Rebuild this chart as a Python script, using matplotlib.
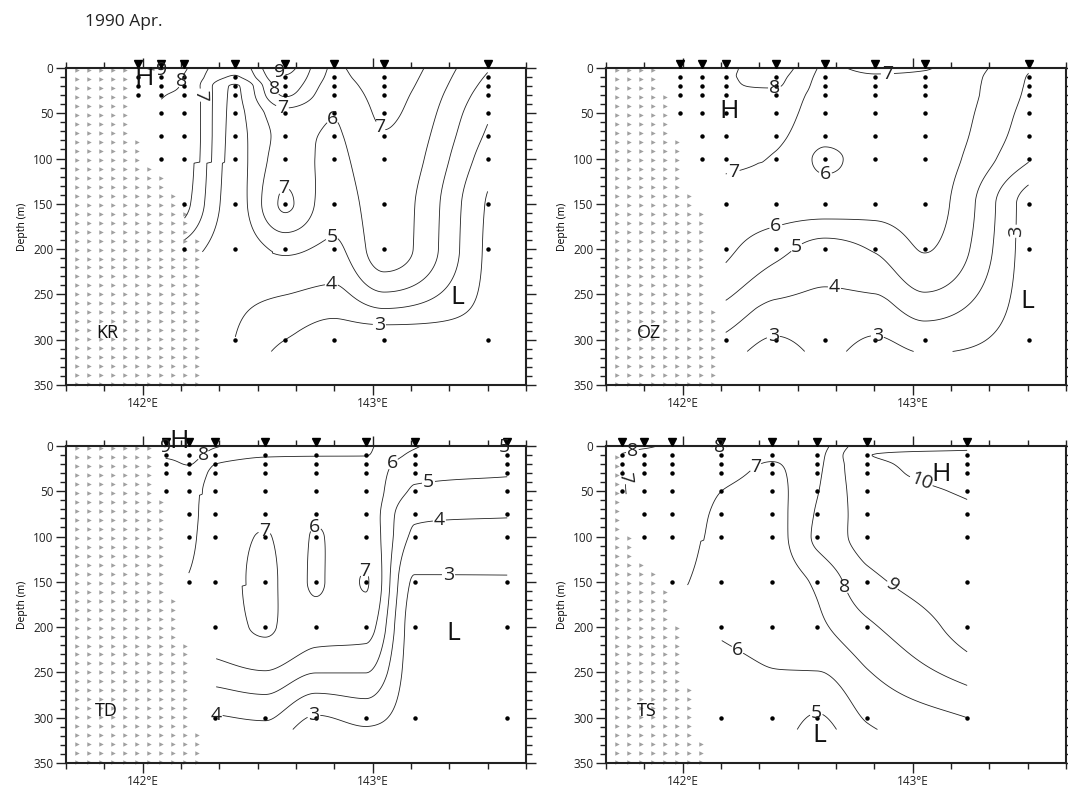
import numpy as np
import matplotlib
matplotlib.use('Agg')
import matplotlib.pyplot as plt
from matplotlib.ticker import MultipleLocator, FixedLocator

plt.rcParams['font.family'] = ['Open Sans', 'DejaVu Sans']

# standard observation depths (m)
DEPTHS = [0, 10, 20, 30, 50, 75, 100, 150, 200, 300]
LEVELS = [3, 4, 5, 6, 7, 8, 9, 10]

# ---- KR section -----------------------------------------------------------
KR_LON = [141.98, 142.08, 142.18, 142.40, 142.62, 142.83, 143.05, 143.50]
KR_TEMP = [
    [8.9, 8.8, 8.7, 8.5],
    [9.15, 8.6, 8.3, 8.05, 7.9, 7.75, 7.6],
    [8.15, 7.95, 7.9, 7.85, 7.8, 7.75, 7.7, 7.4, 5.6],
    [6.3, 5.9, 4.9, 4.85, 4.8, 4.75, 4.7, 4.6, 4.4, 4.0],
    [9.3, 8.9, 8.5, 8.1, 6.7, 6.3, 6.5, 7.15, 5.2, 3.0],
    [6.9, 6.8, 6.6, 6.4, 6.05, 5.9, 5.75, 5.4, 4.8, 2.4],
    [7.6, 7.5, 7.4, 7.3, 7.15, 6.95, 6.8, 6.55, 6.5, 2.2],
    [5.1, 4.9, 4.7, 4.5, 4.15, 3.85, 3.5, 2.9, 2.8, 2.75],
]
KR_LAND = [0, 0, 0, 0, 0, 75, 110, 120, 140, 150, 185]

# ---- OZ section -----------------------------------------------------------
OZ_LON = [141.99, 142.086, 142.187, 142.404, 142.619, 142.837, 143.052, 143.504]
OZ_TEMP = [
    [7.9, 7.9, 7.85, 7.8, 7.7],
    [7.9, 7.9, 7.9, 7.85, 7.8, 7.6, 7.3],
    [7.9, 7.95, 7.95, 7.9, 7.95, 7.7, 7.3, 6.5, 6.2, 3.8],
    [8.5, 8.2, 8.05, 7.8, 7.6, 7.25, 6.9, 6.5, 5.35, 2.9],
    [6.9, 6.8, 6.7, 6.6, 6.4, 6.2, 5.85, 6.4, 4.6, 3.4],
    [7.15, 6.95, 6.9, 6.8, 6.6, 6.5, 6.4, 6.3, 5.1, 2.9],
    [7.05, 6.9, 6.85, 6.8, 6.7, 6.6, 6.5, 6.4, 6.05, 3.4],
    [5.1, 4.95, 4.9, 4.85, 4.7, 4.5, 4.1, 2.5, 2.5, 2.6],
]
OZ_LAND = [0, 0, 0, 0, 25, 76, 137, 160, 260]

# ---- TD section -----------------------------------------------------------
TD_LON = [142.10, 142.20, 142.316, 142.533, 142.753, 142.97, 143.182, 143.585]
TD_TEMP = [
    [9.1, 8.3, 7.6, 7.4, 7.2],
    [8.7, 8.4, 8.05, 7.6, 7.3, 7.25, 7.2, 6.95],
    [8.1, 7.6, 7.0, 6.8, 6.7, 6.7, 6.65, 6.6, 6.55, 3.9],
    [7.5, 7.1, 6.7, 6.6, 6.6, 6.8, 7.05, 7.2, 7.1, 4.1],
    [7.3, 7.05, 6.6, 6.4, 6.3, 6.1, 5.95, 5.9, 6.3, 2.9],
    [7.1, 7.02, 6.7, 6.6, 6.5, 6.5, 6.6, 7.05, 6.4, 3.3],
    [6.1, 5.8, 5.4, 5.15, 4.9, 4.15, 3.85, 2.9, 2.6, 2.6],
    [4.9, 5.3, 5.2, 5.05, 4.8, 4.1, 3.6, 2.95, 2.8, 2.7],
]
TD_LAND = [0, 0, 0, 0, 0, 0, 0, 60, 165, 215, 310]

# ---- TS section -----------------------------------------------------------
TS_LON = [141.738, 141.833, 141.953, 142.168, 142.388, 142.585, 142.803, 143.237]
TS_TEMP = [
    [8.4, 7.9, 7.3, 6.95, 6.9],
    [8.15, 7.7, 7.55, 7.5, 7.45, 7.4, 7.35],
    [7.9, 7.7, 7.6, 7.5, 7.45, 7.35, 7.3, 7.15],
    [8.05, 7.6, 7.4, 7.25, 7.0, 6.9, 6.85, 6.75, 6.1, 5.6],
    [7.6, 7.2, 6.95, 6.85, 6.75, 6.7, 6.65, 6.55, 6.3, 5.6],
    [7.7, 7.75, 7.8, 7.85, 7.95, 8.1, 8.2, 7.15, 6.8, 4.9],
    [9.6, 9.98, 9.8, 9.7, 9.5, 9.35, 9.3, 8.75, 7.8, 6.1],
    [9.75, 10.2, 10.3, 10.3, 10.1, 9.85, 9.75, 9.6, 9.4, 7.0],
]
TS_LAND = [5, 100, 128, 140, 152, 200, 262, 324]

# label / annotation positions (lon, depth); *_ROT = labels that follow the line
KR_CLAB = [(142.08, 0), (142.16, 14), (142.25, 30), (142.61, 0), (142.61, 18), (142.61, 40),
           (142.82, 51), (143.046, 62), (142.60, 129), (142.82, 183), (142.82, 235), (143.03, 277)]
KR_ROT = [2]
OZ_CLAB = [(142.40, 18), (142.89, 4), (142.22, 115), (142.62, 114), (142.40, 170),
           (142.50, 200), (142.67, 220), (143.41, 180), (142.39, 288), (142.85, 288)]
OZ_ROT = [7]
TD_CLAB = [(142.09, 0), (142.26, 9), (143.08, 18), (143.24, 35), (143.29, 82), (143.33, 126),
           (142.53, 90), (142.75, 90), (142.96, 132), (142.31, 290), (142.74, 291), (143.57, 2)]
TD_ROT = []
TS_CLAB = [(141.78, 4), (141.75, 35), (142.16, 2), (142.30, 17), (142.25, 220),
           (142.58, 292), (142.72, 154), (142.90, 158), (143.03, 44)]
TS_ROT = [1, 7, 8]

PANELS = [
    ('KR', KR_LON, KR_TEMP, KR_LAND, KR_CLAB, KR_ROT,
     [('H', 142.005, 12), ('L', 143.37, 253), ('KR', 141.845, 293)]),
    ('OZ', OZ_LON, OZ_TEMP, OZ_LAND, OZ_CLAB, OZ_ROT,
     [('H', 142.20, 48), ('L', 143.50, 258), ('OZ', 141.852, 293)]),
    ('TD', TD_LON, TD_TEMP, TD_LAND, TD_CLAB, TD_ROT,
     [('H', 142.16, -5), ('L', 143.35, 207), ('TD', 141.844, 293)]),
    ('TS', TS_LON, TS_TEMP, TS_LAND, TS_CLAB, TS_ROT,
     [('H', 143.126, 31), ('L', 142.593, 320), ('TS', 141.845, 293)]),
]

AX_POS = [[0.0618, 0.5133, 0.4307, 0.4008], [0.5674, 0.5133, 0.4307, 0.4008],
          [0.0618, 0.0354, 0.4307, 0.4008], [0.5674, 0.0354, 0.4307, 0.4008]]


def pchip(x, y, xi, ext=0.0):
    """Shape-preserving cubic through (x, y); NaN outside, linear tail of length ext."""
    x = np.asarray(x, float); y = np.asarray(y, float)
    out = np.full(xi.shape, np.nan)
    if len(x) < 2:
        return out
    h = np.diff(x); d = np.diff(y) / h
    m = np.zeros_like(y)
    m[0], m[-1] = d[0], d[-1]
    for k in range(1, len(x) - 1):
        if d[k - 1] * d[k] > 0:
            w1 = 2 * h[k] + h[k - 1]; w2 = h[k] + 2 * h[k - 1]
            m[k] = (w1 + w2) / (w1 / d[k - 1] + w2 / d[k])
    k = np.clip(np.searchsorted(x, xi) - 1, 0, len(x) - 2)
    hk = x[k + 1] - x[k]
    t = (xi - x[k]) / hk
    val = ((2 * t**3 - 3 * t**2 + 1) * y[k] + (t**3 - 2 * t**2 + t) * hk * m[k]
           + (-2 * t**3 + 3 * t**2) * y[k + 1] + (t**3 - t**2) * hk * m[k + 1])
    inside = (xi >= x[0]) & (xi <= x[-1])
    out[inside] = val[inside]
    tail = (xi > x[-1]) & (xi <= x[-1] + ext)
    out[tail] = y[-1] + d[-1] * (xi[tail] - x[-1])
    return out


def grid_section(lons, temps):
    zi = np.linspace(0, 313, 260)
    xi = np.linspace(lons[0], lons[-1], 400)
    prof = np.array([pchip(DEPTHS[:len(t)], t, zi, ext=13 if len(t) == len(DEPTHS) else 4)
                     for t in temps])
    lons = np.asarray(lons)
    field = np.full((len(zi), len(xi)), np.nan)
    for j in range(len(zi)):
        ok = ~np.isnan(prof[:, j])
        if ok.sum() >= 2:
            field[j] = pchip(lons[ok], prof[ok, j], xi)
    return xi, zi, field


fig = plt.figure(figsize=(10.68, 7.91), dpi=100)
fig.text(0.080, 0.972, '1990 Apr.', fontsize=12.5, ha='left', va='center', color='#222222')

for pos, (name, lons, temps, land, clab, rot, texts) in zip(AX_POS, PANELS):
    ax = fig.add_axes(pos)
    ax.set_xlim(141 + 2 / 3, 143 + 2 / 3)
    ax.set_ylim(350, 0)

    # land pattern
    land_lon = 141.715 + 0.052 * np.arange(len(land))
    rows = np.linspace(2.5, 349, 36)
    lx, ly = [], []
    for lo, top in zip(land_lon, land):
        for r in rows:
            if r >= top:
                lx.append(lo); ly.append(r)
    ax.plot(lx, ly, ls='none', marker='>', ms=3.2, color='#a0a0a0', mec='none', clip_on=False, zorder=1)

    # contours
    xi, zi, field = grid_section(lons, temps)
    cs = ax.contour(xi, zi, field, levels=LEVELS, colors='#222222', linewidths=0.6, zorder=2)
    labels = ax.clabel(cs, fmt='%d', fontsize=14, inline=True, inline_spacing=1, manual=clab)
    for i, t in enumerate(labels):
        t.set_zorder(6)
        t.set_clip_on(False)
        if i not in rot:
            t.set_rotation(0)

    # stations
    for lo, t in zip(lons, temps):
        d = DEPTHS[1:len(t)]
        ax.plot([lo] * len(d), d, ls='none', marker='o', ms=2.2, color='k', zorder=3)
    ax.plot(lons, [-4.2] * len(lons), ls='none', marker='v', ms=5.5, color='k', clip_on=False, zorder=4)

    for s, x, y in texts:
        fs = 13 if len(s) == 2 else 19
        ax.text(x, y, s, fontsize=fs, ha='center', va='center', color='#111111', zorder=5,
                clip_on=False)

    ax.set_ylabel('Depth (m)', fontsize=7.5, labelpad=4)
    ax.yaxis.set_major_locator(MultipleLocator(50))
    ax.yaxis.set_minor_locator(MultipleLocator(10))
    ax.xaxis.set_major_locator(FixedLocator([142, 143]))
    ax.xaxis.set_minor_locator(FixedLocator(141 + 2 / 3 + np.arange(13) / 6))
    ax.set_xticklabels(['142°E', '143°E'])
    ax.tick_params(which='both', direction='out', top=True, right=True,
                   labeltop=False, labelright=False, width=1.0, labelsize=8.5, colors='#222222')
    ax.tick_params(which='major', length=7, pad=2)
    ax.tick_params(which='minor', length=4)
    for sp in ax.spines.values():
        sp.set_linewidth(1.5)
        sp.set_color('#222222')

fig.savefig('out.png', dpi=100)
